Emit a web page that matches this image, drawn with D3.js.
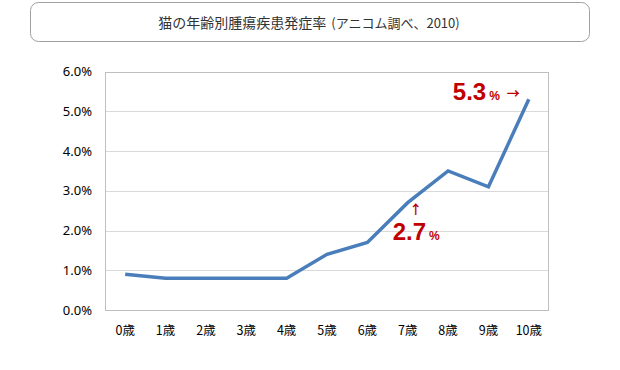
<!DOCTYPE html>
<html><head><meta charset="utf-8">
<script src="https://cdn.jsdelivr.net/npm/d3@7"></script>
<style>body{margin:0;background:#fff;}svg{display:block;}</style>
</head><body><svg id="c" width="620" height="370"></svg>
<script>
const categories = ["0歳","1歳","2歳","3歳","4歳","5歳","6歳","7歳","8歳","9歳","10歳"];
const values = [0.9,0.8,0.8,0.8,0.8,1.4,1.7,2.7,3.5,3.1,5.3];
const yTicks = [0,1,2,3,4,5,6];
const titleMain = "猫の年齢別腫瘍疾患発症率";
const titleSub = "(アニコム調べ、2010)";

const svg = d3.select("#c");
const font = "'Noto Sans CJK JP','Noto Sans',sans-serif";
const latin = "'Noto Sans','Noto Sans CJK JP',sans-serif";
const ann = "'Liberation Sans',Arial,sans-serif";
const arrowFont = "'Noto Sans CJK JP',sans-serif";
const m = {l:105, r:549, t:71.5, b:310};

// title box
svg.append("rect").attr("x",30.5).attr("y",2.5).attr("width",559).attr("height",39)
  .attr("rx",8).attr("fill","#fff").attr("stroke","#a0a0a0");
const t = svg.append("text").attr("x",309).attr("y",28).attr("text-anchor","middle")
  .attr("font-family",font).attr("fill","#333");
t.append("tspan").attr("font-size",14).text(titleMain);
t.append("tspan").attr("font-size",13).attr("dx",5).text(titleSub);

const x = d3.scaleBand().domain(categories).range([m.l,m.r]);
const y = d3.scaleLinear().domain([0,6]).range([m.b,m.t]);

// grid
svg.append("g").selectAll("line").data(yTicks.slice(1,-1)).join("line")
  .attr("x1",m.l).attr("x2",m.r).attr("y1",d=>Math.round(y(d))+0.5).attr("y2",d=>Math.round(y(d))+0.5)
  .attr("stroke","#d9d9d9");
// border
svg.append("rect").attr("x",m.l+0.5).attr("y",Math.round(m.t)+0.5).attr("width",m.r-m.l-1)
  .attr("height",m.b-Math.round(m.t)).attr("fill","none").attr("stroke","#bfbfbf");

// y axis
const ya = svg.append("g").attr("transform",`translate(${m.l},0)`)
  .call(d3.axisLeft(y).tickValues(yTicks).tickFormat(d=>d.toFixed(1)+"%").tickSize(0).tickPadding(13));
ya.select(".domain").remove();
ya.selectAll("text").attr("font-family",latin).attr("font-size",13).attr("fill","#000");

// x axis
const xa = svg.append("g").attr("transform",`translate(0,${m.b})`)
  .call(d3.axisBottom(x).tickSize(0).tickPadding(16));
xa.select(".domain").remove();
xa.selectAll("text").attr("font-family",font).attr("font-size",12.5).attr("fill","#000");

// line
const line = d3.line().x((d,i)=>x(categories[i])+x.bandwidth()/2).y(d=>y(d));
svg.append("path").datum(values).attr("d",line).attr("fill","none")
  .attr("stroke","#4a7ebb").attr("stroke-width",3.5).attr("stroke-linejoin","miter");

// annotations
const red = "#c00000";
function label(xs, yb, val){
  const tx = svg.append("text").attr("x",xs).attr("y",yb).attr("font-family",ann)
    .attr("font-weight","bold").attr("fill",red);
  tx.append("tspan").attr("font-size",24).text(val.toFixed(1));
  tx.append("tspan").attr("font-size",12).attr("dx",3).text("%");
  return tx;
}
const i10 = 10, i7 = 7;
const p10x = x(categories[i10])+x.bandwidth()/2, p10y = y(values[i10]);
label(p10x-76, p10y+1, values[i10]);
svg.append("text").attr("x",p10x-22).attr("y",p10y-1.5).attr("font-family",arrowFont).attr("font-size",13)
  .attr("font-weight","bold").attr("fill",red).text("→");
const p7x = x(categories[i7])+x.bandwidth()/2, p7y = y(values[i7]);
svg.append("text").attr("x",p7x+8).attr("y",p7y+11).attr("text-anchor","middle").attr("font-family",arrowFont)
  .attr("font-size",13).attr("font-weight","bold").attr("fill",red).text("↑");
label(p7x-15, p7y+37, values[i7]);
</script></body></html>
